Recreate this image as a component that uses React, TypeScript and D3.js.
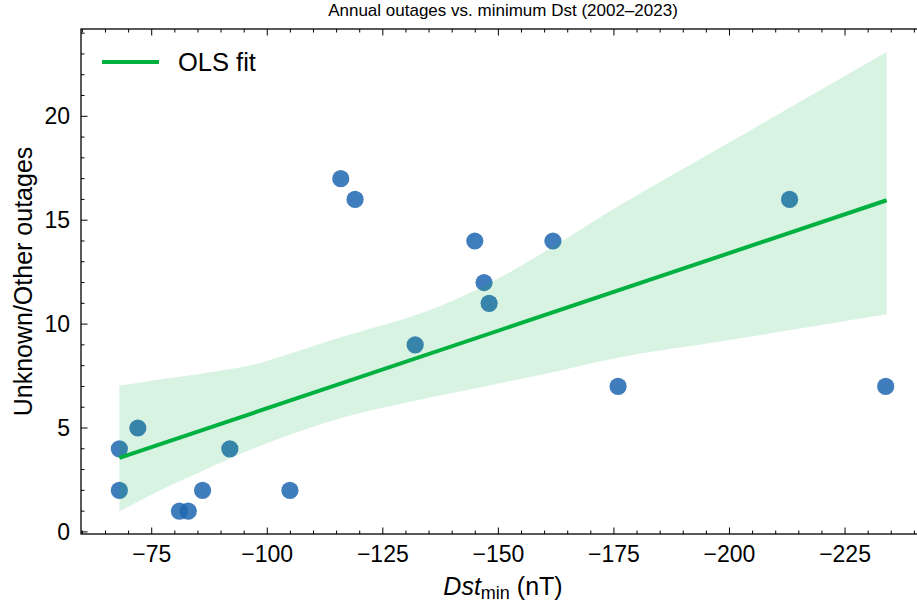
import React from 'react';
import * as d3 from "d3";

const width = 917;
const height = 605;
const margin = ({top: 29, right: -8, bottom: 71, left: 81});

// yearly points: minimum Dst (nT) and unknown/other outages
const dstMin = [-68, -68, -72, -81, -82.9, -86, -91.9, -104.9, -115.9, -119, -132, -144.9, -146.9, -148, -161.8, -175.9, -213, -233.8];
const outages = [4, 2, 5, 1, 1, 2, 4, 2, 17, 16, 9, 14, 12, 11, 14, 7, 16, 7];

// OLS line ends
const fitX = [-68, -234];
const fitY = [3.56, 15.96];

// confidence band
const bandX = [-68, -77, -88, -98, -104, -114, -120, -131, -137, -148, -159, -174, -200, -234];
const bandLow = [0.98, 2.02, 3.14, 4.1, 4.6, 5.35, 5.71, 6.26, 6.55, 7.05, 7.55, 8.3, 9.23, 10.48];
const bandHigh = [7.03, 7.35, 7.7, 8.11, 8.51, 9.23, 9.63, 10.35, 10.83, 11.96, 13.35, 15.42, 18.75, 23.09];

const xTicks = [-75, -100, -125, -150, -175, -200, -225];
const yTicks = [0, 5, 10, 15, 20];

const green = "#00b140";
const font = "'Liberation Sans', Arial, sans-serif";
const fmt = (v: number) => String(v).replace("-", "\u2212");

export default function App() {
    const x = d3.scaleLinear().domain([-59.7, -242.3]).range([margin.left, width - margin.right]);
    const y = d3.scaleLinear().domain([-0.1, 24.2]).range([height - margin.bottom, margin.top]);
    const x0 = margin.left, x1 = width - margin.right;
    const y0 = height - margin.bottom, y1 = margin.top;

    const area = d3.area<number>()
        .x((d, i) => x(bandX[i]))
        .y0((d, i) => y(bandLow[i]))
        .y1((d, i) => y(bandHigh[i]))
        .curve(d3.curveMonotoneX);
    const line = d3.line<number>()
        .x((d, i) => x(fitX[i]))
        .y(d => y(d));

    const xMinor = d3.range(-60, -245, -5).filter(v => x(v) >= x0 && x(v) <= x1 && v % 25 !== 0);
    const yMinor = d3.range(0, 25, 1).filter(v => v % 5 !== 0);

    return (
        <svg width={width} height={height} style={{position: "absolute", left: 0, top: 0}} fontFamily={font}>
            <rect width={width} height={height} fill="white" />
            <text x={(x0 + x1) / 2} y={16} textAnchor="middle" fontSize={17}>Annual outages vs. minimum Dst (2002–2023)</text>

            {dstMin.map((d, i) => (
                <circle key={i} cx={x(d)} cy={y(outages[i])} r={8.6} fill="#1f66b0" fillOpacity={0.85} />
            ))}
            <path d={area(bandX) || ""} fill={green} fillOpacity={0.15} />
            <path d={line(fitY) || ""} fill="none" stroke={green} strokeWidth={4} />

            {/* frame */}
            <rect x={x0} y={y1} width={x1 - x0} height={y0 - y1} fill="none" stroke="black" strokeWidth={1.3} />

            {xTicks.map(t => (
                <g key={t}>
                    <line x1={x(t)} x2={x(t)} y1={y0} y2={y0 - 6.5} stroke="black" />
                    <line x1={x(t)} x2={x(t)} y1={y1} y2={y1 + 6.5} stroke="black" />
                    <text x={x(t)} y={y0 + 28} textAnchor="middle" fontSize={23}>{fmt(t)}</text>
                </g>
            ))}
            {xMinor.map(t => (
                <g key={t}>
                    <line x1={x(t)} x2={x(t)} y1={y0} y2={y0 - 3.5} stroke="black" />
                    <line x1={x(t)} x2={x(t)} y1={y1} y2={y1 + 3.5} stroke="black" />
                </g>
            ))}
            {yTicks.map(t => (
                <g key={t}>
                    <line x1={x0} x2={x0 + 6.5} y1={y(t)} y2={y(t)} stroke="black" />
                    <line x1={x1} x2={x1 - 6.5} y1={y(t)} y2={y(t)} stroke="black" />
                    <text x={x0 - 11} y={y(t) + 8} textAnchor="end" fontSize={23}>{fmt(t)}</text>
                </g>
            ))}
            {yMinor.map(t => (
                <g key={t}>
                    <line x1={x0} x2={x0 + 3.5} y1={y(t)} y2={y(t)} stroke="black" />
                    <line x1={x1} x2={x1 - 3.5} y1={y(t)} y2={y(t)} stroke="black" />
                </g>
            ))}

            <text x={(x0 + 925) / 2} y={595} textAnchor="middle" fontSize={25}>
                <tspan fontStyle="italic">Dst</tspan>
                <tspan fontSize={18} dy={4}>min</tspan>
                <tspan dy={-4}> (nT)</tspan>
            </text>
            <text transform={`translate(32,${(y0 + y1) / 2}) rotate(-90)`} textAnchor="middle" fontSize={25}>Unknown/Other outages</text>

            {/* legend */}
            <line x1={102} x2={159} y1={62} y2={62} stroke={green} strokeWidth={4} />
            <text x={178} y={71} fontSize={25.5}>OLS fit</text>
        </svg>
    );
}
